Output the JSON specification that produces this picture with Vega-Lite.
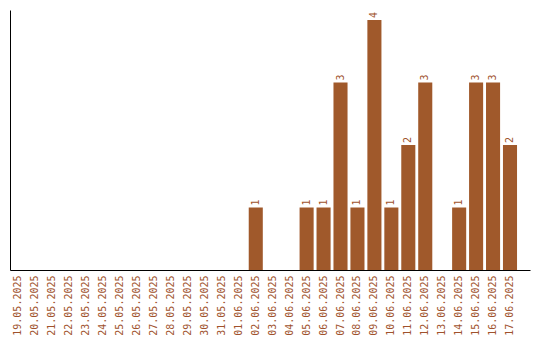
{
  "$schema": "https://vega.github.io/schema/vega-lite/v6.json",
  "autosize": "none",
  "padding": {"left": 10, "top": 10, "right": 10, "bottom": 70},
  "width": 520,
  "height": 260,
  "background": "white",
  "config": {"view": {"stroke": null}, "font": "DejaVu Sans Mono"},
  "data": {"values": [
    {"date": "19.05.2025", "count": 0},
    {"date": "20.05.2025", "count": 0},
    {"date": "21.05.2025", "count": 0},
    {"date": "22.05.2025", "count": 0},
    {"date": "23.05.2025", "count": 0},
    {"date": "24.05.2025", "count": 0},
    {"date": "25.05.2025", "count": 0},
    {"date": "26.05.2025", "count": 0},
    {"date": "27.05.2025", "count": 0},
    {"date": "28.05.2025", "count": 0},
    {"date": "29.05.2025", "count": 0},
    {"date": "30.05.2025", "count": 0},
    {"date": "31.05.2025", "count": 0},
    {"date": "01.06.2025", "count": 0},
    {"date": "02.06.2025", "count": 1},
    {"date": "03.06.2025", "count": 0},
    {"date": "04.06.2025", "count": 0},
    {"date": "05.06.2025", "count": 1},
    {"date": "06.06.2025", "count": 1},
    {"date": "07.06.2025", "count": 3},
    {"date": "08.06.2025", "count": 1},
    {"date": "09.06.2025", "count": 4},
    {"date": "10.06.2025", "count": 1},
    {"date": "11.06.2025", "count": 2},
    {"date": "12.06.2025", "count": 3},
    {"date": "13.06.2025", "count": 0},
    {"date": "14.06.2025", "count": 1},
    {"date": "15.06.2025", "count": 3},
    {"date": "16.06.2025", "count": 3},
    {"date": "17.06.2025", "count": 2}
  ]},
  "encoding": {
    "x": {
      "field": "date", "type": "ordinal", "sort": null,
      "scale": {"paddingInner": 0.17, "paddingOuter": 0.425, "align": 0.1},
      "axis": {
        "title": null, "ticks": false, "labelAngle": 270, "labelAlign": "right",
        "labelBaseline": "middle", "labelPadding": 5, "labelColor": "#a0522d",
        "labelFontSize": 10, "labelFont": "DejaVu Sans Mono",
        "domainColor": "black", "domainWidth": 1
      }
    },
    "y": {
      "field": "count", "type": "quantitative",
      "scale": {"domain": [0, 4.16], "nice": false},
      "axis": {"title": null, "ticks": false, "labels": false, "grid": false, "domainColor": "black", "domainWidth": 1}
    }
  },
  "layer": [
    {"mark": {"type": "bar", "color": "#a0592b"}},
    {
      "transform": [{"filter": "datum.count > 0"}],
      "mark": {"type": "text", "angle": 270, "align": "left", "baseline": "middle", "dx": 2, "fontSize": 10, "color": "#a0522d", "font": "DejaVu Sans Mono"},
      "encoding": {"text": {"field": "count"}}
    }
  ]
}
